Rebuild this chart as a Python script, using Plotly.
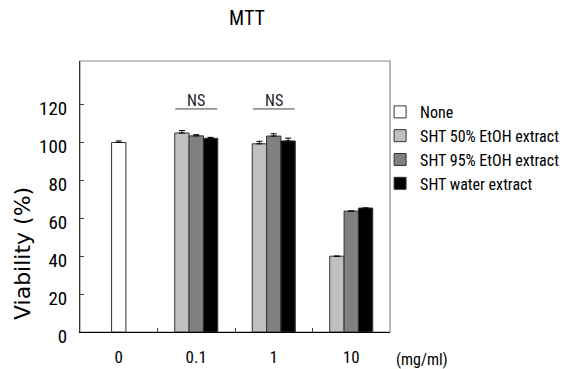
import plotly.graph_objects as go

categories = ["0", "0.1", "1", "10"]
series_names = ["None", "SHT 50% EtOH extract", "SHT 95% EtOH extract", "SHT water extract"]
none_x = ["0"]
none_vals = [100.0]
none_err = [0.8]
ext_x = ["0.1", "1", "10"]
etoh50_vals = [105.0, 99.3, 40.0]
etoh50_err = [1.3, 1.3, 0.0]
etoh95_vals = [103.5, 103.4, 63.8]
etoh95_err = [0.6, 1.2, 0.0]
water_vals = [102.2, 100.8, 65.4]
water_err = [0.5, 1.5, 0.0]
y_ticks = [0, 20, 40, 60, 80, 100, 120]

FONT = "Roboto Condensed, Liberation Sans, Arial, sans-serif"
W = 0.185

def err(a):
    return dict(type="data", symmetric=False, array=a, arrayminus=[0] * len(a),
                color="black", thickness=1, width=3)

fig = go.Figure()
fig.add_trace(go.Bar(name=series_names[0], x=none_x, y=none_vals, error_y=err(none_err),
                     marker=dict(color="white", line=dict(color="#333", width=1)),
                     width=W, offset=-W / 2))
for name, vals, e, col, off in [
    (series_names[1], etoh50_vals, etoh50_err, "#c0c0c0", -1.5 * W),
    (series_names[2], etoh95_vals, etoh95_err, "#808080", -0.5 * W),
    (series_names[3], water_vals, water_err, "#000000", 0.5 * W),
]:
    fig.add_trace(go.Bar(name=name, x=ext_x, y=vals, error_y=err(e),
                         marker=dict(color=col, line=dict(color="#333", width=1)),
                         width=W, offset=off))

shapes = [dict(type="rect", xref="paper", yref="paper", x0=0, x1=1, y0=0, y1=1,
               line=dict(color="#8c8c8c", width=1.2), layer="below")]
annotations = []
for ci in [1, 2]:
    shapes.append(dict(type="line", xref="x", yref="y", x0=ci - 0.27, x1=ci + 0.27,
                       y0=117.7, y1=117.7, line=dict(color="#444", width=1)))
    annotations.append(dict(x=ci, y=117.7, xref="x", yref="y", text="NS", showarrow=False,
                            yanchor="bottom", yshift=-3,
                            font=dict(family=FONT, size=16, color="#222")))
annotations.append(dict(x=1.013, y=-0.103, xref="paper", yref="paper", text="(mg/ml)",
                        showarrow=False, xanchor="left", yanchor="middle",
                        font=dict(family=FONT, size=16, color="black")))
annotations.append(dict(x=-58 / 310, y=(332 - 254) / 271, xref="paper", yref="paper",
                        text="Viability (%)", showarrow=False, textangle=-90,
                        xanchor="center", yanchor="middle",
                        font=dict(family="DejaVu Sans, Liberation Sans, Arial, sans-serif", size=22, color="black")))

fig.update_layout(
    width=569, height=369,
    margin=dict(l=80, r=179, t=61, b=37, autoexpand=False),
    paper_bgcolor="white", plot_bgcolor="white",
    title=dict(text="MTT", x=247 / 569, xanchor="center", y=1 - 18 / 369, yanchor="middle",
               font=dict(family=FONT, size=20, color="black")),
    barmode="overlay",
    showlegend=True,
    legend=dict(x=0.968, y=(332 - 95) / 271, xanchor="left", yanchor="top", xref="paper", yref="paper",
                font=dict(family=FONT, size=16, color="black"), traceorder="normal",
                bgcolor="rgba(0,0,0,0)", itemwidth=30),
    shapes=shapes,
    annotations=annotations,
    font=dict(family=FONT, color="black"),
)
fig.update_xaxes(type="category", categoryorder="array", categoryarray=categories,
                 range=[-0.5, 3.5], showline=True, linecolor="black", linewidth=1,
                 ticks="inside", ticklen=4, tickcolor="#444", tickson="boundaries",
                 showgrid=False, ticklabelstandoff=10, automargin=False,
                 tickfont=dict(family=FONT, size=17, color="black"))
fig.update_yaxes(range=[0, 143], tickvals=y_ticks, showline=True, linecolor="#333", linewidth=1,
                 ticks="inside", ticklen=4, tickcolor="#444", showgrid=False, zeroline=False,
                 ticklabelstandoff=8, ticklabelshift=4, automargin=False,
                 tickfont=dict(family=FONT, size=19, color="black"))

fig.write_html("out.html", config={"displayModeBar": False},
               post_script="document.body.style.margin='0';")
